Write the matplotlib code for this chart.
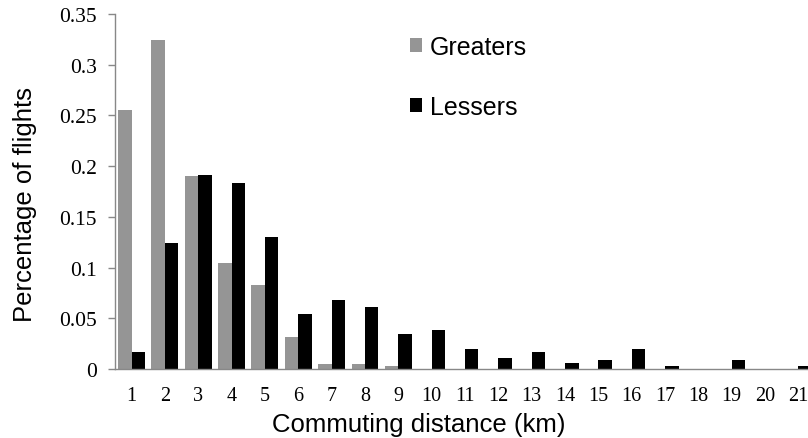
import numpy as np
import matplotlib.pyplot as plt

distance = list(range(1, 22))
greaters = [0.255, 0.324, 0.190, 0.105, 0.083, 0.032, 0.005, 0.005, 0.003, 0, 0,
            0, 0, 0, 0, 0, 0, 0, 0, 0, 0]
lessers = [0.017, 0.124, 0.191, 0.183, 0.130, 0.054, 0.068, 0.061, 0.035, 0.038, 0.020,
           0.011, 0.017, 0.006, 0.009, 0.020, 0.003, 0, 0.009, 0, 0.003]
yticks = [0, 0.05, 0.1, 0.15, 0.2, 0.25, 0.3, 0.35]
ytick_labels = ["0", "0.05", "0.1", "0.15", "0.2", "0.25", "0.3", "0.35"]

fig = plt.figure(figsize=(8.08, 4.39), dpi=100)
ax = fig.add_axes([115 / 808, 69 / 439, 700 / 808, 355 / 439])

x = np.array(distance)
w = 0.405
ax.bar(x - w / 2, greaters, w, color="#959595", label="Greaters")
ax.bar(x + w / 2, lessers, w, color="#000000", label="Lessers")

ax.set_xlim(0.5, 21.5)
ax.set_ylim(0, 0.35)
ax.set_xticks(distance)
ax.set_xticklabels([str(d) for d in distance], family="Liberation Serif", fontsize=14.5)
ax.set_yticks(yticks)
ax.set_yticklabels(ytick_labels, family="Liberation Serif", fontsize=15.5)
ax.tick_params(axis="x", length=0, pad=12)
ax.tick_params(axis="y", length=5, width=1, color="#888888", pad=8)

for s in ["top", "right"]:
    ax.spines[s].set_visible(False)
for s in ["left", "bottom"]:
    ax.spines[s].set_color("#888888")
    ax.spines[s].set_linewidth(1)

ax.set_xlabel("Commuting distance (km)", family="Liberation Sans", fontsize=18.5)
ax.set_ylabel("Percentage of flights", family="Liberation Sans", fontsize=18.5)
ax.xaxis.set_label_coords(0.434, -0.121)
ax.yaxis.set_label_coords(-0.111, 0.465)

ax.legend(loc="upper left", bbox_to_anchor=((410 - 115) / 700, (370 - 36) / 355),
          frameon=False, prop={"family": "Liberation Sans", "size": 18},
          handlelength=0.5, handleheight=0.5, handletextpad=0.3,
          labelspacing=1.44, borderaxespad=0, borderpad=0)

fig.savefig("out.png", dpi=100)
